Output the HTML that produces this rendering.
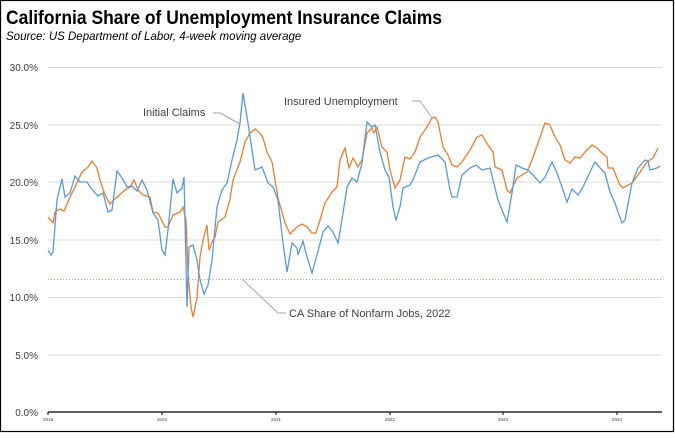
<!DOCTYPE html>
<html><head><style>
body{margin:0;background:#fff;width:675px;height:433px;overflow:hidden}
</style></head><body>
<svg width="675" height="433" xmlns="http://www.w3.org/2000/svg" font-family="Liberation Sans, sans-serif">
<rect x="0.5" y="0.5" width="673" height="431" fill="#fff" stroke="#000" stroke-width="1.2"/>
<text x="6" y="24" font-size="19" font-weight="bold" fill="#000" textLength="436" lengthAdjust="spacingAndGlyphs">California Share of Unemployment Insurance Claims</text>
<text x="6" y="40" font-size="11.5" font-style="italic" fill="#000">Source:  US Department of Labor, 4-week moving average</text>
<g stroke="#d9d9d9" stroke-width="1">
<line x1="48" x2="662" y1="67.5" y2="67.5"/><line x1="48" x2="662" y1="125" y2="125"/><line x1="48" x2="662" y1="182" y2="182"/><line x1="48" x2="662" y1="240" y2="240"/><line x1="48" x2="662" y1="297.5" y2="297.5"/><line x1="48" x2="662" y1="355" y2="355"/>
</g>
<g font-size="10" fill="#404040" text-anchor="end">
<text x="38" y="71">30.0%</text><text x="38" y="129">25.0%</text><text x="38" y="186">20.0%</text><text x="38" y="244">15.0%</text><text x="38" y="301">10.0%</text><text x="38" y="359">5.0%</text><text x="38" y="416">0.0%</text>
</g>
<line x1="48" x2="662" y1="279.5" y2="279.5" stroke="#70ad47" stroke-width="0.8" stroke-dasharray="1,2"/>
<line x1="48" x2="662" y1="412" y2="412" stroke="#000" stroke-width="1.2"/>
<g stroke="#000" stroke-width="1"><line x1="48" x2="48" y1="412" y2="415"/><line x1="162" x2="162" y1="412" y2="415"/><line x1="276" x2="276" y1="412" y2="415"/><line x1="390" x2="390" y1="412" y2="415"/><line x1="503" x2="503" y1="412" y2="415"/><line x1="617" x2="617" y1="412" y2="415"/></g>
<g font-size="4.5" fill="#404040" text-anchor="middle"><text x="48" y="421">2019</text><text x="162" y="421">2020</text><text x="276" y="421">2021</text><text x="390" y="421">2022</text><text x="503" y="421">2023</text><text x="617" y="421">2024</text></g>
<polyline fill="none" stroke="#ed7d31" stroke-width="1.3" points="48,217 53,223 55,212 60,209 64,211 70,197 75,187 82,172 88,167 92,161 97,168 100,180 105,195 110,204 117,197 125,190 130,187 134,180 138,190 143,195 150,197 153,212 158,213 165,227 168,227 173,215 180,212 183,207 186,220 188,273 191,307 193,317 197,298 200,257 203,240 207,225 209,250 212,242 215,237 218,222 225,217 230,199 233,180 240,162 245,142 250,133 255,129 260,133 263,138 267,152 272,162 275,180 278,198 282,212 285,223 290,234 297,227 302,224 307,227 312,233 316,233 320,220 325,203 332,192 337,187 340,160 345,148 349,168 353,158 358,167 362,160 367,133 372,128 374,133 377,127 382,147 387,152 390,170 395,188 400,180 405,157 410,159 415,152 420,137 427,127 432,118 435,117 438,122 443,147 448,155 452,165 457,167 462,162 470,150 477,137 482,135 488,145 493,152 495,167 502,170 507,190 510,193 517,178 522,175 527,172 532,160 538,143 545,123 550,125 555,137 560,145 565,160 570,163 575,157 580,158 585,152 592,145 597,148 602,153 607,157 608,168 613,168 617,178 620,185 623,188 632,183 638,175 647,162 653,158 658,148"/>
<polyline fill="none" stroke="#5b9bd5" stroke-width="1.3" points="48,250 51,255 53,252 57,200 62,179 65,197 70,193 75,176 80,182 87,182 90,187 98,196 103,193 108,212 112,210 117,171 122,178 127,187 132,186 137,191 142,180 147,190 153,213 158,220 162,250 165,255 168,230 173,179 177,193 182,188 184,177 187,307 189,247 193,245 197,260 200,280 204,294 208,285 212,260 217,207 222,190 227,183 232,160 237,140 240,123 243,93 248,123 255,170 262,167 268,183 273,187 278,200 283,243 287,272 292,243 297,248 298,255 303,241 307,257 312,273 317,255 323,232 328,226 333,232 338,243 343,213 347,187 352,178 357,182 362,163 367,122 372,127 375,125 380,152 385,170 389,177 393,207 396,220 400,207 403,188 410,185 413,180 420,162 428,158 438,155 445,162 450,190 452,197 457,197 462,175 470,168 476,165 482,170 490,168 495,188 498,200 507,222 512,193 516,165 522,168 528,170 533,175 540,183 545,177 552,162 557,173 562,187 567,202 572,189 578,195 583,187 590,172 595,162 602,170 605,173 610,192 615,203 618,212 622,223 625,220 632,183 638,168 645,160 648,161 650,170 657,168 660,166"/>
<g stroke="#a6a6a6" stroke-width="1" fill="none">
<polyline points="213,113 220,113 240,124"/>
<polyline points="412,101 420,101 432,118"/>
<polyline points="243,280 278,313 286,313"/>
</g>
<g font-size="11" fill="#404040">
<text x="143" y="116">Initial Claims</text>
<text x="284" y="105">Insured Unemployment</text>
<text x="289" y="317">CA Share of Nonfarm Jobs, 2022</text>
</g>
</svg>
</body></html>
